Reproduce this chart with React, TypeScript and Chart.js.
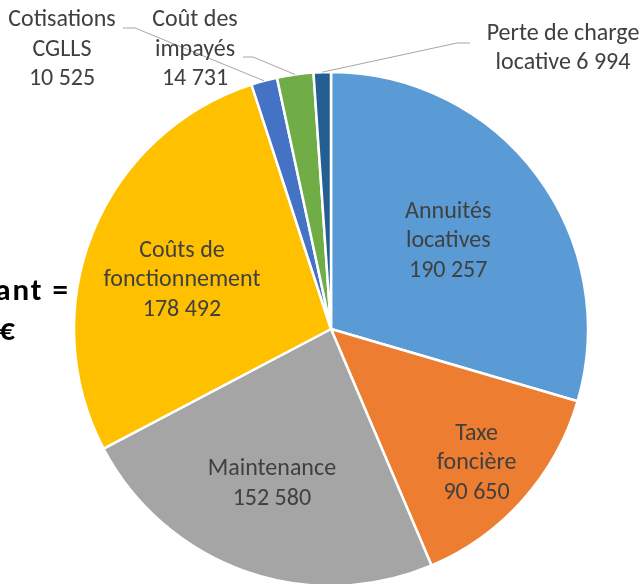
import React, { useEffect, useRef } from "react";
import { Chart, registerables } from "chart.js";

Chart.register(...registerables);

// ---- data ----
const categories = [
  "Annuités locatives",
  "Taxe foncière",
  "Maintenance",
  "Coûts de fonctionnement",
  "Cotisations CGLLS",
  "Coût des impayés",
  "Perte de charge locative",
];
const values = [190257, 90650, 152580, 178492, 10525, 14731, 6994];
const labelNameLines = [
  ["Annuités", "locatives"],
  ["Taxe", "foncière"],
  ["Maintenance"],
  ["Coûts de", "fonctionnement"],
  ["Cotisations", "CGLLS"],
  ["Coût des", "impayés"],
  ["Perte de charge", "locative"],
];
const valueOnSameLine = [false, false, false, false, false, false, true];
const sideTitleLines = ["Montant =", "644 229 €"];

// ---- styles ----
const colors = ["#5B9BD5", "#ED7D31", "#A5A5A5", "#FFC000", "#4472C4", "#70AD47", "#255E91"];
const FONT = "Carlito, Calibri, Lato, 'Noto Sans', sans-serif";
const LABEL_SIZE = 24;
const LINE_H = 29.5;
// inside labels: radial factor + angle tweak (deg); outside: offset from center + leader elbow/end
const labelPlacement: any[] = [
  { inside: true, f: 0.57, da: 0 },
  { inside: true, f: 0.77, da: 1 },
  { inside: true, f: 0.645, da: 1.3 },
  { inside: true, f: 0.61, da: -4 },
  { inside: false, tx: -269, ty: -279.5, ex: -196, ey: -301, lx: -208 },
  { inside: false, tx: -136, ty: -279.5, ex: -78, ey: -272, lx: -88 },
  { inside: false, tx: 232, ty: -280.5, ex: 126, ey: -286, lx: 139 },
];

const fmt = (v: number) => String(v).replace(/\B(?=(\d{3})+(?!\d))/g, " ");

const labelPlugin = {
  id: "pieLabels",
  afterDatasetsDraw(chart: any) {
    const ctx = chart.ctx;
    const meta = chart.getDatasetMeta(0);
    ctx.save();
    meta.data.forEach((arc: any, i: number) => {
      const { x, y, startAngle, endAngle, outerRadius } = arc.getProps(
        ["x", "y", "startAngle", "endAngle", "outerRadius"],
        true
      );
      const mid = (startAngle + endAngle) / 2;
      const p = labelPlacement[i];
      const lines = labelNameLines[i].slice();
      const v = fmt(values[i]);
      if (valueOnSameLine[i]) lines[lines.length - 1] += " " + v;
      else lines.push(v);
      let cx: number, cy: number;
      if (p.inside) {
        const a = mid + (p.da * Math.PI) / 180;
        cx = x + Math.cos(a) * outerRadius * p.f;
        cy = y + Math.sin(a) * outerRadius * p.f;
      } else {
        cx = x + p.tx;
        cy = y + p.ty;
        const sx = x + Math.cos(mid) * outerRadius;
        const sy = y + Math.sin(mid) * outerRadius;
        ctx.strokeStyle = "#A6A6A6";
        ctx.lineWidth = 1;
        ctx.beginPath();
        ctx.moveTo(sx, sy);
        ctx.lineTo(x + p.ex, y + p.ey);
        ctx.lineTo(x + p.lx, y + p.ey);
        ctx.stroke();
      }
      ctx.fillStyle = "#404040";
      ctx.font = `${LABEL_SIZE}px ${FONT}`;
      ctx.textAlign = "center";
      ctx.textBaseline = "middle";
      const top = cy - ((lines.length - 1) * LINE_H) / 2;
      lines.forEach((ln, k) => ctx.fillText(ln, cx, top + k * LINE_H));
    });
    // partially visible side title
    const cx0 = meta.data[0].x;
    const cy0 = meta.data[0].y;
    ctx.fillStyle = "#000000";
    ctx.font = `bold 31px ${FONT}`;
    try { (ctx as any).letterSpacing = "2px"; } catch (e) {}
    ctx.textAlign = "right";
    ctx.textBaseline = "alphabetic";
    ctx.fillText(sideTitleLines[0], cx0 - 261, cy0 - 29);
    ctx.fillText(sideTitleLines[1], cx0 - 314, cy0 + 11);
    ctx.restore();
  },
};

export default function App() {
  const ref = useRef<HTMLCanvasElement | null>(null);
  useEffect(() => {
    if (!ref.current) return;
    const chart = new Chart(ref.current, {
      type: "pie",
      data: {
        labels: categories,
        datasets: [
          {
            data: values,
            backgroundColor: colors,
            borderColor: "#FFFFFF",
            borderWidth: 2.5,
            clip: false,
          } as any,
        ],
      },
      options: {
        animation: false,
        responsive: false,
        radius: 257,
        layout: { padding: { left: 19, top: 74, right: 0, bottom: 0 } },
        plugins: {
          legend: { display: false },
          tooltip: { enabled: false },
          title: { display: false },
        },
      } as any,
      plugins: [labelPlugin],
    });
    return () => chart.destroy();
  }, []);
  return (
    <div style={{ position: "fixed", left: 0, top: 0, width: 643, height: 584, background: "#fff" }}>
      <canvas ref={ref} width={643} height={584} style={{ display: "block" }} />
    </div>
  );
}
